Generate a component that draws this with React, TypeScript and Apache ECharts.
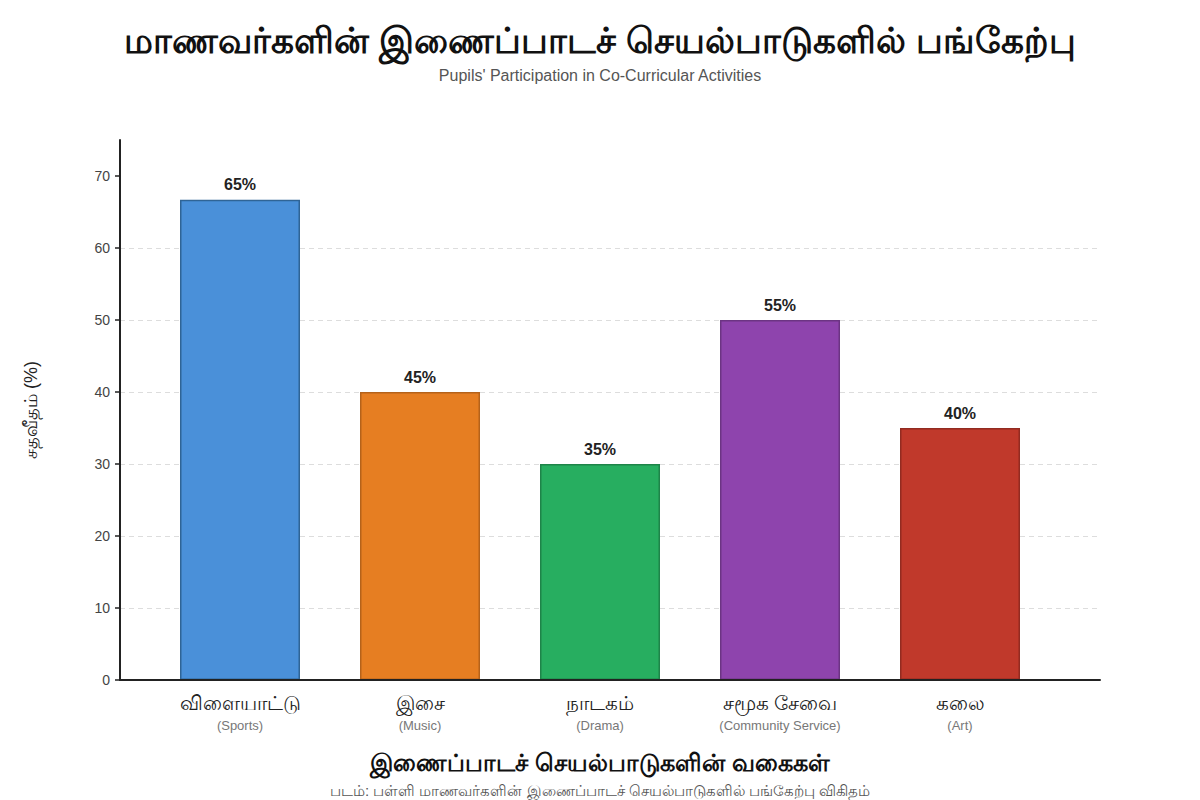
import React, { useEffect, useRef } from "react";
import * as echarts from "echarts";

const categoriesTa = ["விளையாட்டு", "இசை", "நாடகம்", "சமூக சேவை", "கலை"];
const categoriesEn = ["(Sports)", "(Music)", "(Drama)", "(Community Service)", "(Art)"];
const barValues = [66.7, 40, 30, 50, 35];
const valueLabels = ["65%", "45%", "35%", "55%", "40%"];
const barColors = ["#4A90D9", "#E67E22", "#27AE60", "#8E44AD", "#C0392B"];
const borderColors = ["#2F6496", "#B5621A", "#1E8449", "#6C3483", "#922B21"];
const yTicks = [0, 10, 20, 30, 40, 50, 60, 70];

const FONT = "'Liberation Sans', 'Noto Sans', Arial, sans-serif";

export default function App() {
  const ref = useRef<HTMLDivElement>(null);
  useEffect(() => {
    document.body.style.margin = "0";
    if (!ref.current) return;
    const chart = echarts.init(ref.current, undefined, { renderer: "svg" });
    const centered = {
      align: "center",
      verticalAlign: "middle",
      textAlign: "center",
      textVerticalAlign: "middle",
    };
    chart.setOption({
      animation: false,
      backgroundColor: "#ffffff",
      textStyle: { fontFamily: FONT },
      graphic: [
        {
          type: "text",
          x: 600,
          y: 40,
          style: {
            text: "மாணவர்களின் இணைப்பாடச் செயல்பாடுகளில் பங்கேற்பு",
            fontSize: 36,
            fontWeight: "bold",
            fontFamily: FONT,
            fill: "#111111",
            ...centered,
          },
        },
        {
          type: "text",
          x: 600,
          y: 75,
          style: {
            text: "Pupils' Participation in Co-Curricular Activities",
            fontSize: 16,
            fontFamily: FONT,
            fill: "#555555",
            ...centered,
          },
        },
        {
          type: "text",
          x: 600,
          y: 762,
          style: {
            text: "இணைப்பாடச் செயல்பாடுகளின் வகைகள்",
            fontSize: 24,
            fontWeight: "bold",
            fontFamily: FONT,
            fill: "#111111",
            ...centered,
          },
        },
        {
          type: "text",
          x: 600,
          y: 790,
          style: {
            text: "படம்: பள்ளி மாணவர்களின் இணைப்பாடச் செயல்பாடுகளில் பங்கேற்பு விகிதம்",
            fontSize: 15,
            fontFamily: FONT,
            fill: "#555555",
            ...centered,
          },
        },
      ],
      grid: [
        { left: 120, right: 100, top: 140, bottom: 120 },
        { left: 150, right: 150, top: 140, bottom: 120 },
      ],
      xAxis: [
        {
          gridIndex: 0,
          type: "value",
          min: 0,
          max: 1,
          z: 5,
          axisLine: { show: true, onZero: false, lineStyle: { color: "#222222", width: 2 } },
          axisTick: { show: false },
          axisLabel: { show: false },
          splitLine: { show: false },
        },
        {
          gridIndex: 1,
          type: "category",
          data: categoriesTa,
          axisLine: { show: false },
          axisTick: { show: false },
          axisLabel: {
            margin: 11,
            interval: 0,
            formatter: (v: string, i: number) => `{a|${v}}\n{b|${categoriesEn[i]}}`,
            rich: {
              a: { fontSize: 20, color: "#222222", lineHeight: 24, fontFamily: FONT },
              b: { fontSize: 13, color: "#777777", lineHeight: 20, fontFamily: FONT },
            },
          },
        },
      ],
      yAxis: [
        {
          gridIndex: 0,
          type: "value",
          min: 0,
          max: 75,
          interval: 10,
          name: "சதவீதம் (%)",
          nameLocation: "middle",
          nameRotate: 90,
          nameGap: 80,
          nameTextStyle: { fontSize: 18, color: "#222222", fontFamily: FONT },
          axisLine: { show: true, lineStyle: { color: "#222222", width: 2 } },
          axisTick: {
            show: true,
            length: 5,
            customValues: yTicks,
            lineStyle: { color: "#222222", width: 1.5 },
          },
          axisLabel: {
            customValues: yTicks,
            fontSize: 14,
            color: "#444444",
            margin: 10,
          },
          splitLine: {
            show: true,
            showMaxLine: false,
            showMinLine: false,
            lineStyle: { color: "#dddddd", type: [5, 4], width: 1 },
          },
        },
        {
          gridIndex: 1,
          type: "value",
          min: 0,
          max: 75,
          show: false,
          splitLine: { show: false },
        },
      ],
      series: [
        {
          type: "bar",
          xAxisIndex: 1,
          yAxisIndex: 1,
          barWidth: 120,
          data: barValues.map((v, i) => ({
            value: v,
            itemStyle: { color: barColors[i], borderColor: borderColors[i], borderWidth: 1.5 },
          })),
          label: {
            show: true,
            position: "top",
            distance: 7,
            formatter: (p: any) => valueLabels[p.dataIndex],
            fontSize: 16,
            fontWeight: "bold",
            color: "#222222",
            fontFamily: FONT,
          },
        },
      ],
    });
    return () => chart.dispose();
  }, []);
  return <div ref={ref} style={{ width: 1200, height: 800 }} />;
}
